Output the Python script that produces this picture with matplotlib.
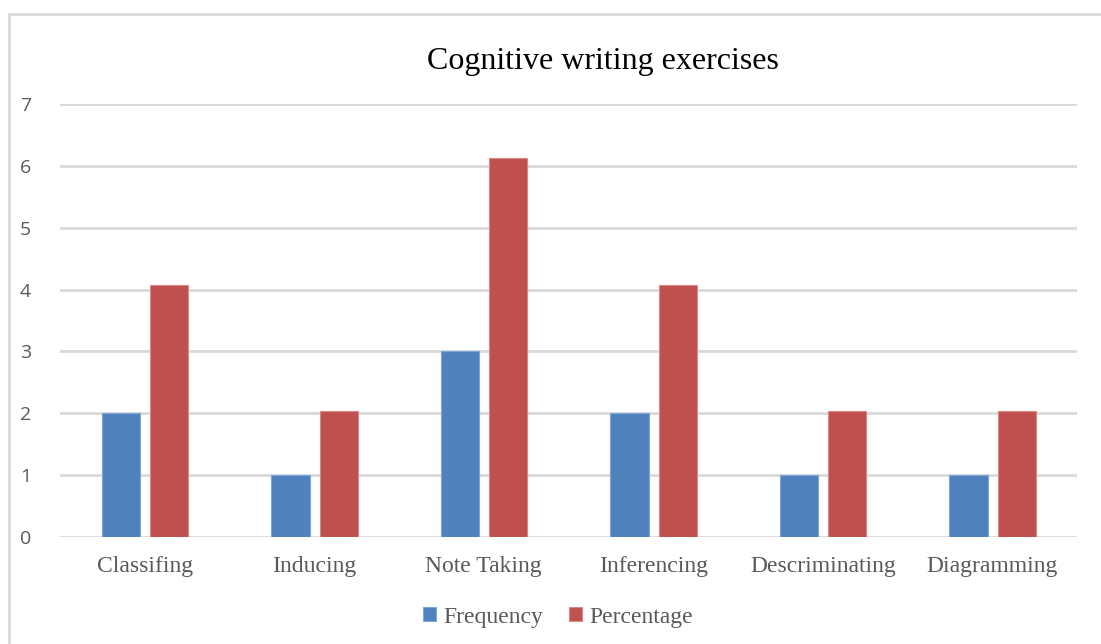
import numpy as np
import matplotlib.pyplot as plt
from matplotlib.patches import Rectangle

categories = ['Classifing', 'Inducing', 'Note Taking', 'Inferencing',
              'Descriminating', 'Diagramming']
frequency = [2, 1, 3, 2, 1, 1]
percentage = [4.08, 2.04, 6.12, 4.08, 2.04, 2.04]
y_ticks = [0, 1, 2, 3, 4, 5, 6, 7]

W, H = 1101, 644
fig = plt.figure(figsize=(W / 100, H / 100), dpi=100)

# outer chart frame (runs off the right and bottom edges)
fig.patches.append(Rectangle((9 / W, -0.05), 1.2, 1 - 14 / H + 0.05,
                             transform=fig.transFigure, fill=False,
                             edgecolor='#d9d9d9', linewidth=2))

ax = fig.add_axes([60 / W, 1 - 537 / H, (1077 - 60) / W, (537 - 104) / H])

x = np.arange(len(categories))
w = 0.225
ax.bar(x - 0.14, frequency, w, color='#4f81bd', edgecolor='#7ea6d6',
       linewidth=0.8, label='Frequency', zorder=3)
ax.bar(x + 0.145, percentage, w, color='#c0504d', edgecolor='#d98a88',
       linewidth=0.8, label='Percentage', zorder=3)

ax.set_xlim(-0.5, len(categories) - 0.5)
ax.set_ylim(0, 7)
ax.set_yticks(y_ticks)
ax.set_yticklabels([str(t) for t in y_ticks], fontsize=14,
                   family='Open Sans', color='#595959')
ax.set_xticks(x)
ax.set_xticklabels(categories, fontsize=17, family='Liberation Serif',
                   color='#595959')
ax.tick_params(axis='both', length=0)
ax.tick_params(axis='y', pad=21)
ax.tick_params(axis='x', pad=14)

ax.grid(axis='y', color='#d9d9d9', linewidth=2, zorder=0)
for s in ax.spines.values():
    s.set_visible(False)

fig.text(603 / W, 1 - 62 / H, 'Cognitive writing exercises', ha='center',
         va='center', fontsize=23, family='Liberation Serif', color='#000000')

ax.legend(loc='center', bbox_to_anchor=(558 / W, 1 - 617 / H),
          bbox_transform=fig.transFigure, ncol=2, frameon=False,
          prop={'family': 'Liberation Serif', 'size': 17},
          labelcolor='#595959', handlelength=0.55, handleheight=0.55,
          handletextpad=0.3, columnspacing=1.1)

plt.savefig('out.png', dpi=100)
